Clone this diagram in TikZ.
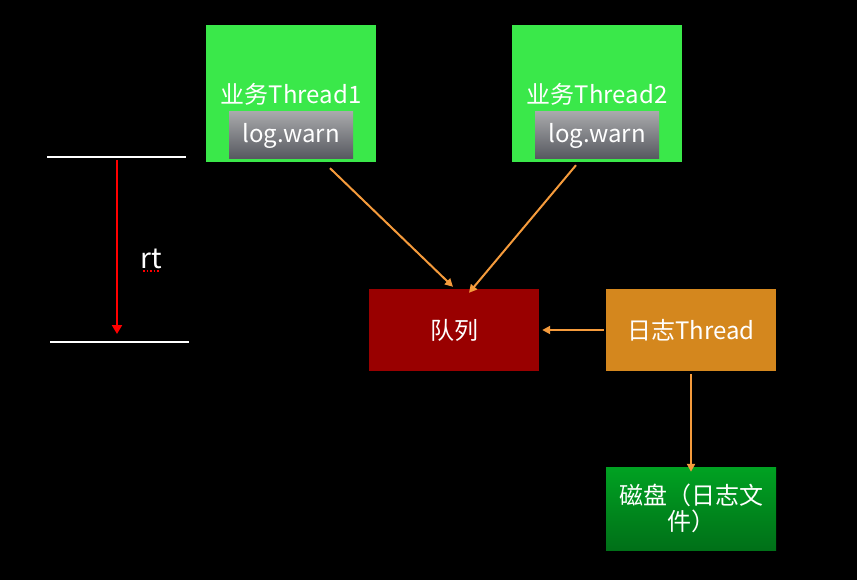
\documentclass[tikz,border=0pt]{standalone}
\usepackage{fontspec}
\setmainfont{Noto Sans CJK SC}
\usetikzlibrary{arrows.meta}
\definecolor{threadgreen}{RGB}{58,232,74}
\definecolor{warntop}{RGB}{168,169,171}
\definecolor{warnbot}{RGB}{86,88,95}
\definecolor{queuered}{RGB}{153,0,0}
\definecolor{logorange}{RGB}{212,135,30}
\definecolor{disktop}{RGB}{0,162,34}
\definecolor{diskbot}{RGB}{0,112,24}
\definecolor{floworange}{RGB}{245,155,60}

\begin{document}
\begin{tikzpicture}[x=1pt,y=-1pt,
  box/.style={minimum width=170pt,inner sep=0pt,text=white,font=\fontsize{24}{26}\selectfont},
  warnbox/.style={minimum width=124pt,minimum height=47pt,inner sep=0pt,text=white,
    top color=warntop,bottom color=warnbot,font=\fontsize{24}{26}\selectfont},
  flow/.style={draw=floworange,line width=2pt,-{Triangle[width=8pt,length=8pt]}}]
\fill [black] (0,0) rectangle (857,580);
\useasboundingbox (0,0) rectangle (857,580);
% rt scale
\coordinate (topl) at (47,157);
\coordinate (topr) at (186,157);
\coordinate (botl) at (50,342);
\coordinate (botr) at (189,342);
\coordinate (rtstart) at (117,160);
\coordinate (rtend) at (117,334);
\draw [white, line width=2pt] (topl) -- (topr);
\draw [white, line width=2pt] (botl) -- (botr);
\draw [red, line width=2pt, -{Triangle[width=10pt,length=9pt]}] (rtstart) -- (rtend);
\node [text=white, font=\fontsize{28}{30}\selectfont] (rt) at (151,259) {rt};
\draw [red, dotted, line width=1.5pt] ([xshift=-8pt,yshift=-12pt]rt.center) -- ([xshift=9pt,yshift=-12pt]rt.center);
% threads
\node [box, fill=threadgreen, minimum height=137pt] (t1) at (291,93.5) {};
\node [text=white, font=\fontsize{24}{26}\selectfont] (n1) at (291,94) {业务Thread1};
\node [warnbox] (w1) at (291,135.5) {log.warn};
\node [box, fill=threadgreen, minimum height=137pt] (t2) at (597,93.5) {};
\node [text=white, font=\fontsize{24}{26}\selectfont] (n2) at (597,94) {业务Thread2};
\node [warnbox] (w2) at (597,135.5) {log.warn};
% queue, log thread, disk
\node [box, fill=queuered, minimum height=82pt] (q) at (454,330) {队列};
\node [box, fill=logorange, minimum height=82pt] (lt) at (691,330) {日志Thread};
\node [box, top color=disktop, bottom color=diskbot, minimum height=83pt,
  text width=160pt, align=center] (disk) at (691,508.5) {磁盘（日志文\\件）};
\draw [flow] ([shift={(39,6)}]t1.south) -- ([shift={(-1,-2)}]q.north);
\draw [flow] ([shift={(-21,3)}]t2.south) -- ([shift={(15,4)}]q.north);
\draw [flow] ([xshift=-2pt]lt.west) -- ([xshift=3pt]q.east);
\draw [flow] ([yshift=-3pt]lt.south) -- ([yshift=-5pt]disk.north);
\end{tikzpicture}
\end{document}
